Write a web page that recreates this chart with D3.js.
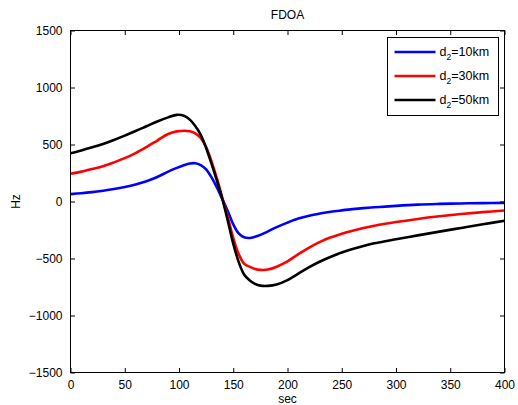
<!DOCTYPE html>
<html>
<head>
<meta charset="utf-8">
<script src="https://cdn.jsdelivr.net/npm/d3@7"></script>
<style>
  html, body { margin: 0; padding: 0; background: #fff; }
  svg { display: block; }
  text { font-family: "Liberation Sans", Arial, Helvetica, sans-serif; }
</style>
</head>
<body>
<svg id="chart" width="518" height="405"></svg>
<script>
// Time samples (sec)
const timeSec = [0, 10, 20, 30, 40, 50, 60, 70, 80, 90, 98, 105, 110, 115, 120, 125, 130, 135, 140, 145,
  150, 155, 160, 165, 170, 175, 182, 190, 200, 210, 220, 230, 240, 250, 260, 270, 280, 290, 300,
  320, 340, 360, 380, 400];

// FDOA (Hz) for each receiver distance d2
const fdoa10km = [65, 72, 82, 95, 110, 128, 150, 178, 215, 262, 295, 320, 333, 336, 320, 282, 212, 122, 20, -85,
  -200, -280, -314, -320, -310, -293, -262, -225, -185, -150, -125, -106, -90, -78, -67, -58, -51, -45, -38,
  -27, -21, -17, -14, -12];
const fdoa30km = [243, 262, 285, 310, 343, 380, 425, 478, 535, 592, 615, 621, 617, 598, 558, 478, 350, 200, 30, -140,
  -320, -460, -545, -572, -592, -600, -597, -572, -525, -462, -404, -354, -314, -283, -256, -232, -212, -195, -180,
  -153, -130, -110, -93, -79];
const fdoa50km = [424, 448, 475, 505, 540, 578, 618, 660, 702, 738, 760, 750, 718, 662, 585, 470, 330, 180, 20, -170,
  -370, -530, -640, -690, -722, -738, -740, -728, -690, -633, -576, -526, -484, -448, -417, -390, -367, -348, -331,
  -297, -264, -232, -200, -169];

const xTicks = [0, 50, 100, 150, 200, 250, 300, 350, 400];
const yTicks = [-1500, -1000, -500, 0, 500, 1000, 1500];

const series = [
  { label: "10km", values: fdoa10km, color: "#0000ff" },
  { label: "30km", values: fdoa30km, color: "#ff0000" },
  { label: "50km", values: fdoa50km, color: "#000000" }
];

const svg = d3.select("#chart");
const plot = { left: 70.5, right: 504.5, top: 30.5, bottom: 372.5 };

const x = d3.scaleLinear().domain([0, 400]).range([plot.left, plot.right]);
const y = d3.scaleLinear().domain([-1500, 1500]).range([plot.bottom, plot.top]);

const fontSize = 12;
const tickLen = 4.5;

// Curves, clipped to the axes box
svg.append("clipPath").attr("id", "plotClip")
  .append("rect")
  .attr("x", plot.left).attr("y", plot.top)
  .attr("width", plot.right - plot.left).attr("height", plot.bottom - plot.top);

const line = d3.line()
  .x((d, i) => x(timeSec[i]))
  .y(d => y(d))
  .curve(d3.curveCatmullRom.alpha(0.5));

svg.append("g").attr("clip-path", "url(#plotClip)")
  .selectAll("path")
  .data(series)
  .join("path")
  .attr("fill", "none")
  .attr("stroke", d => d.color)
  .attr("stroke-width", 2.6)
  .attr("stroke-linejoin", "round")
  .attr("d", d => line(d.values));

// Axes: ticks point inward on all four sides
const axisStyle = g => {
  g.select(".domain").remove();
  g.selectAll(".tick line").attr("stroke", "#000").attr("stroke-width", 1);
  g.selectAll(".tick text").attr("fill", "#000").attr("font-size", fontSize);
};

svg.append("g")
  .attr("transform", `translate(0,${plot.bottom})`)
  .call(d3.axisBottom(x).tickValues(xTicks).tickFormat(d3.format("d")).tickSizeInner(-tickLen).tickSizeOuter(0).tickPadding(8))
  .call(axisStyle);

svg.append("g")
  .attr("transform", `translate(0,${plot.top})`)
  .call(d3.axisTop(x).tickValues(xTicks).tickFormat("").tickSizeInner(-tickLen).tickSizeOuter(0))
  .call(axisStyle);

svg.append("g")
  .attr("transform", `translate(${plot.left},0)`)
  .call(d3.axisLeft(y).tickValues(yTicks).tickFormat(d3.format("d")).tickSizeInner(-tickLen).tickSizeOuter(0).tickPadding(8))
  .call(axisStyle);

svg.append("g")
  .attr("transform", `translate(${plot.right},0)`)
  .call(d3.axisRight(y).tickValues(yTicks).tickFormat("").tickSizeInner(-tickLen).tickSizeOuter(0))
  .call(axisStyle);

// Axes box
svg.append("rect")
  .attr("x", plot.left).attr("y", plot.top)
  .attr("width", plot.right - plot.left).attr("height", plot.bottom - plot.top)
  .attr("fill", "none").attr("stroke", "#000").attr("stroke-width", 1);

// Title and axis labels
svg.append("text")
  .attr("x", (plot.left + plot.right) / 2).attr("y", 19)
  .attr("text-anchor", "middle").attr("font-size", fontSize)
  .text("FDOA");

svg.append("text")
  .attr("x", (plot.left + plot.right) / 2).attr("y", 403)
  .attr("text-anchor", "middle").attr("font-size", fontSize)
  .text("sec");

svg.append("text")
  .attr("transform", `translate(20,${(plot.top + plot.bottom) / 2}) rotate(-90)`)
  .attr("text-anchor", "middle").attr("font-size", fontSize)
  .text("Hz");

// Legend
const legend = svg.append("g").attr("transform", "translate(387.5,37.5)");
legend.append("rect")
  .attr("width", 111).attr("height", 78)
  .attr("fill", "#fff").attr("stroke", "#000").attr("stroke-width", 1);

const rows = legend.selectAll("g.row")
  .data(series)
  .join("g")
  .attr("class", "row")
  .attr("transform", (d, i) => `translate(0,${14.5 + i * 24})`);

rows.append("line")
  .attr("x1", 7).attr("x2", 48)
  .attr("stroke", d => d.color).attr("stroke-width", 2.6);

const labels = rows.append("text")
  .attr("x", 52).attr("y", 4)
  .attr("font-size", 12.5);
labels.append("tspan").text("d");
labels.append("tspan").attr("font-size", 8.5).attr("dy", 4).text("2");
labels.append("tspan").attr("dy", -4).text(d => "=" + d.label);
</script>
</body>
</html>
